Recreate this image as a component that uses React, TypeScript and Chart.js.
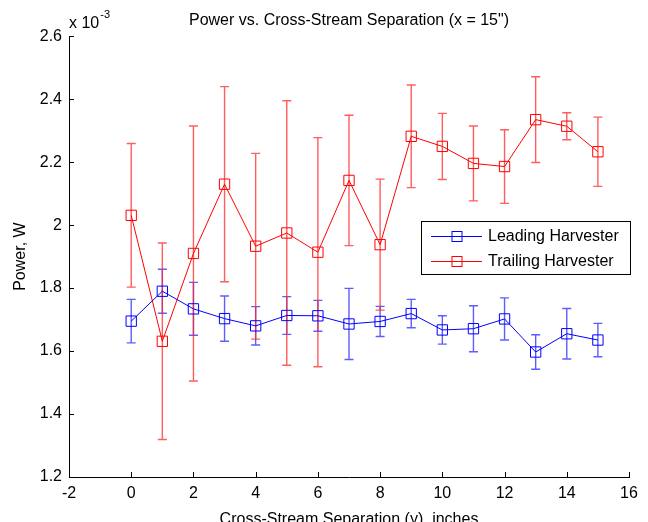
import { useEffect, useRef } from "react";
import { Chart, registerables } from "chart.js";

Chart.register(...registerables);

// Cross-stream separation y (inches)
const separation = [0, 1, 2, 3, 4, 5, 6, 7, 8, 9, 10, 11, 12, 13, 14, 15];

// Power in units of 10^-3 W
const leadingPower = [1.695, 1.79, 1.734, 1.703, 1.68, 1.713, 1.712, 1.686, 1.694, 1.719, 1.667, 1.671, 1.702, 1.597, 1.655, 1.635];
const leadingError = [0.069, 0.07, 0.084, 0.072, 0.061, 0.06, 0.049, 0.113, 0.048, 0.045, 0.045, 0.073, 0.067, 0.055, 0.08, 0.053];

const trailingPower = [2.031, 1.631, 1.91, 2.13, 1.933, 1.975, 1.914, 2.142, 1.938, 2.282, 2.25, 2.196, 2.186, 2.335, 2.314, 2.233];
const trailingError = [0.228, 0.312, 0.405, 0.31, 0.295, 0.42, 0.364, 0.207, 0.208, 0.163, 0.105, 0.119, 0.117, 0.136, 0.043, 0.11];

const seriesLabels = ["Leading Harvester", "Trailing Harvester"];
const seriesColors = ["#0000ff", "#ff0000"];
const errorColors = ["rgba(40,40,255,0.75)", "rgba(255,40,40,0.75)"];

const chartTitle = 'Power vs. Cross-Stream Separation (x = 15")';
const xTitle = "Cross-Stream Separation (y), inches";
const yTitle = "Power, W";
const yExponent = "-3";

const FONT = "'Liberation Sans', Arial, Helvetica, sans-serif";

const errorBarPlugin = {
  id: "errorBars",
  beforeDatasetsDraw(chart: any) {
    const { ctx, scales } = chart;
    const xs = scales.x;
    const ys = scales.y;
    chart.data.datasets.forEach((ds: any, i: number) => {
      const errs: number[] = ds.errorBars || [];
      ctx.save();
      ctx.strokeStyle = errorColors[i];
      ctx.lineWidth = 1.4;
      ds.data.forEach((pt: any, j: number) => {
        const e = errs[j];
        const px = xs.getPixelForValue(pt.x);
        const top = ys.getPixelForValue(pt.y + e);
        const bot = ys.getPixelForValue(pt.y - e);
        const cap = 4.5;
        ctx.beginPath();
        ctx.moveTo(px, top);
        ctx.lineTo(px, bot);
        ctx.moveTo(px - cap, top);
        ctx.lineTo(px + cap, top);
        ctx.moveTo(px - cap, bot);
        ctx.lineTo(px + cap, bot);
        ctx.stroke();
      });
      ctx.restore();
    });
  },
};

const decorPlugin = {
  id: "decor",
  afterDraw(chart: any) {
    const { ctx, scales, chartArea } = chart;
    const xs = scales.x;
    const ys = scales.y;
    ctx.save();
    // inward tick marks
    ctx.strokeStyle = "#000";
    ctx.lineWidth = 1;
    ctx.beginPath();
    xs.ticks.forEach((t: any) => {
      const px = Math.round(xs.getPixelForValue(t.value)) + 0.5;
      ctx.moveTo(px, chartArea.bottom);
      ctx.lineTo(px, chartArea.bottom - 5);
    });
    ys.ticks.forEach((t: any) => {
      const py = Math.round(ys.getPixelForValue(t.value)) + 0.5;
      ctx.moveTo(chartArea.left, py);
      ctx.lineTo(chartArea.left + 5, py);
    });
    ctx.stroke();

    // exponent label
    ctx.fillStyle = "#000";
    ctx.textBaseline = "alphabetic";
    ctx.textAlign = "left";
    ctx.font = `16px ${FONT}`;
    const base = "x 10";
    ctx.fillText(base, chartArea.left, 28);
    const w = ctx.measureText(base).width;
    ctx.font = `11px ${FONT}`;
    ctx.fillText(yExponent, chartArea.left + w + 1, 18);

    // legend
    const bx = 421;
    const by = 221;
    const bw = 209;
    const bh = 53;
    ctx.fillStyle = "#fff";
    ctx.fillRect(bx, by, bw, bh);
    ctx.strokeStyle = "#000";
    ctx.lineWidth = 1;
    ctx.strokeRect(bx + 0.5, by + 0.5, bw, bh);
    const rows = [236, 261];
    chart.data.datasets.forEach((ds: any, i: number) => {
      const ry = rows[i] + 0.5;
      ctx.strokeStyle = ds.borderColor;
      ctx.lineWidth = 1;
      ctx.beginPath();
      ctx.moveTo(431, ry);
      ctx.lineTo(482, ry);
      ctx.stroke();
      ctx.strokeRect(457 - 5, ry - 5, 10, 10);
      ctx.fillStyle = "#000";
      ctx.font = `16px ${FONT}`;
      ctx.textBaseline = "middle";
      ctx.fillText(ds.label, 488, rows[i] + 1);
    });
    ctx.restore();
  },
};

export default function App() {
  const canvasRef = useRef<HTMLCanvasElement | null>(null);

  useEffect(() => {
    const canvas = canvasRef.current;
    if (!canvas) return;
    const makeData = (vals: number[]) => separation.map((x, i) => ({ x, y: vals[i] }));
    const chart = new Chart(canvas, {
      type: "scatter",
      data: {
        datasets: [
          {
            label: seriesLabels[0],
            data: makeData(leadingPower),
            errorBars: leadingError,
            showLine: true,
            borderColor: seriesColors[0],
            backgroundColor: "rgba(0,0,0,0)",
            borderWidth: 1,
            pointStyle: "rect",
            pointRadius: 7.3,
            pointBorderWidth: 1,
            pointBorderColor: seriesColors[0],
            pointBackgroundColor: "rgba(0,0,0,0)",
            tension: 0,
          } as any,
          {
            label: seriesLabels[1],
            data: makeData(trailingPower),
            errorBars: trailingError,
            showLine: true,
            borderColor: seriesColors[1],
            backgroundColor: "rgba(0,0,0,0)",
            borderWidth: 1,
            pointStyle: "rect",
            pointRadius: 7.3,
            pointBorderWidth: 1,
            pointBorderColor: seriesColors[1],
            pointBackgroundColor: "rgba(0,0,0,0)",
            tension: 0,
          } as any,
        ],
      },
      options: {
        animation: false,
        responsive: true,
        maintainAspectRatio: false,
        layout: { padding: { left: 0, right: 19, top: 0, bottom: 0 } },
        plugins: {
          legend: { display: false },
          tooltip: { enabled: false },
          title: {
            display: true,
            text: chartTitle,
            color: "#000",
            fullSize: false,
            font: { size: 16, family: FONT, weight: "normal" },
            padding: { top: 11, bottom: 6 },
          },
        },
        scales: {
          x: {
            type: "linear",
            min: -2,
            max: 16,
            grid: { display: false, drawTicks: false },
            border: { display: true, color: "#000", width: 1 },
            ticks: {
              stepSize: 2,
              color: "#000",
              padding: 7,
              font: { size: 16, family: FONT },
            },
            title: {
              display: true,
              text: xTitle,
              color: "#000",
              font: { size: 16, family: FONT },
              padding: { top: 0, bottom: -7 },
            },
            afterFit: (s: any) => {
              s.height = 45;
            },
          },
          y: {
            type: "linear",
            min: 1.2,
            max: 2.6,
            grid: { display: false, drawTicks: false },
            border: { display: true, color: "#000", width: 1 },
            ticks: {
              stepSize: 0.2,
              color: "#000",
              padding: 7,
              font: { size: 16, family: FONT },
              callback: (v: any) => String(Number(Number(v).toFixed(1))),
            },
            title: {
              display: true,
              text: yTitle,
              color: "#000",
              font: { size: 16, family: FONT },
              padding: { top: 11, bottom: 0 },
            },
            afterFit: (s: any) => {
              s.width = 69;
            },
          },
        },
      },
      plugins: [errorBarPlugin, decorPlugin],
    } as any);
    return () => chart.destroy();
  }, []);

  return (
    <div style={{ position: "fixed", left: 0, top: 0, width: 648, height: 522, background: "#fff" }}>
      <canvas ref={canvasRef} />
    </div>
  );
}
